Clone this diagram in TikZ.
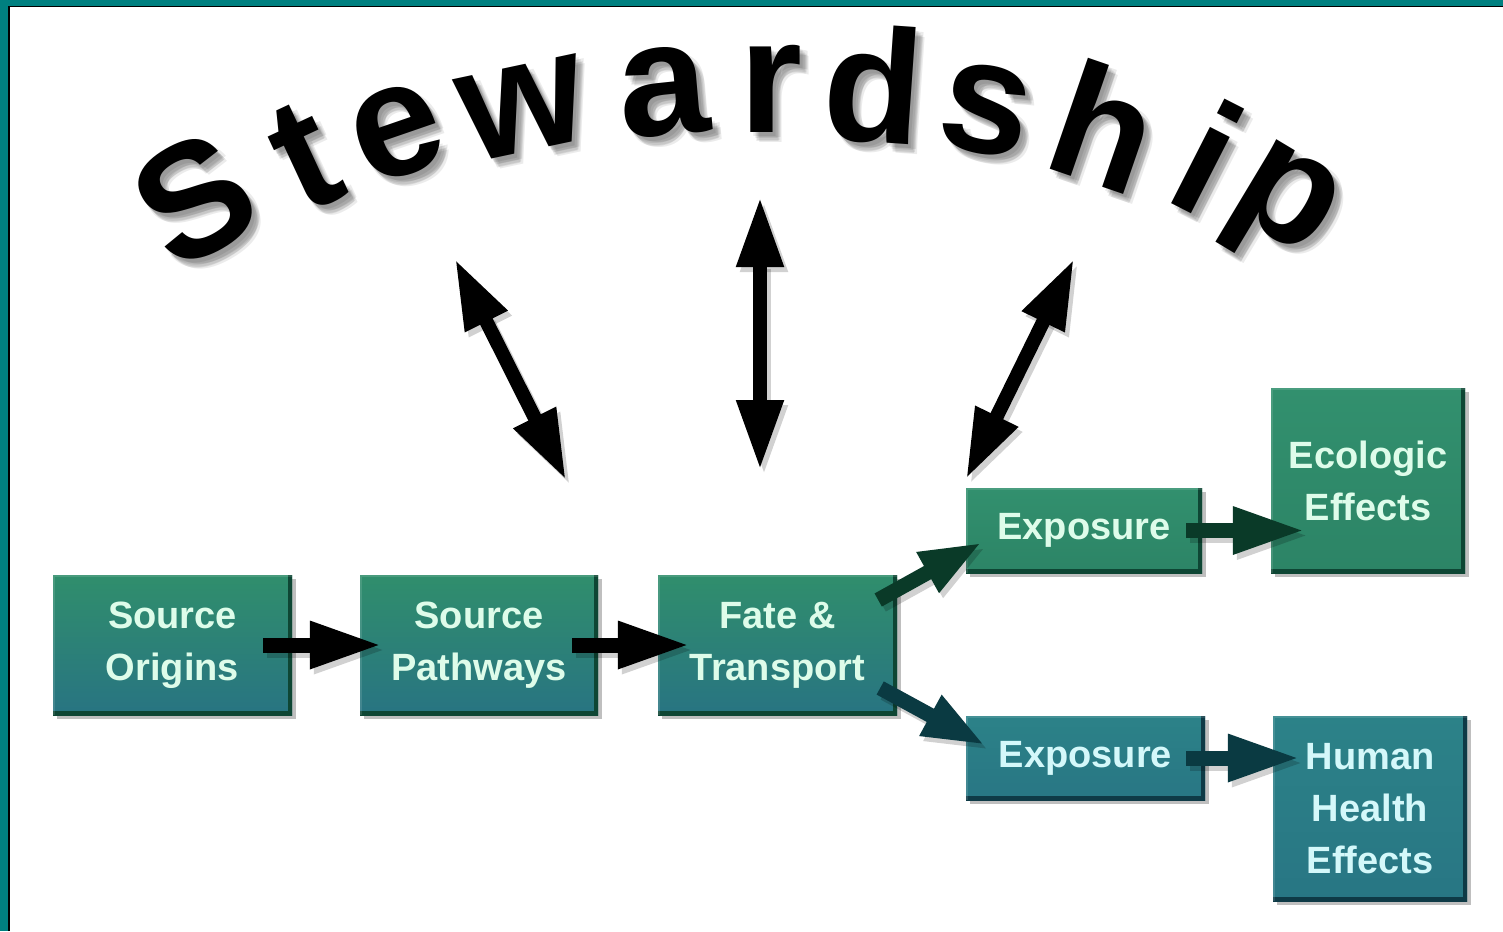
\documentclass[tikz,border=0pt]{standalone}
\usepackage{fontspec}
\setmainfont{Liberation Sans}
\usetikzlibrary{arrows.meta,shadows,calc}
\definecolor{frameteal}{RGB}{0,128,128}
\definecolor{gtop}{RGB}{48,142,108}
\definecolor{gbot}{RGB}{40,116,130}
\definecolor{g2top}{RGB}{50,144,110}
\definecolor{g2bot}{RGB}{44,132,102}
\definecolor{ttop}{RGB}{44,130,136}
\definecolor{tbot}{RGB}{40,118,132}
\definecolor{gdark}{RGB}{14,70,52}
\definecolor{tdark}{RGB}{14,58,70}
\definecolor{agreen}{RGB}{10,58,40}
\definecolor{ateal}{RGB}{10,58,66}
\definecolor{txtg}{RGB}{222,252,234}
\definecolor{txtt}{RGB}{212,248,250}
\tikzset{
  stewletter/.style={inner sep=0pt, text=black, font=\fontsize{162}{162}\selectfont\bfseries},
  box/.style={rectangle, inner sep=0pt, align=center,
    font=\fontsize{38}{52}\selectfont\bfseries,
    drop shadow={shadow xshift=4pt, shadow yshift=-4pt, opacity=.25, fill=black}},
  bevel/.style={path picture={
    \draw[line width=9pt,#1] (path picture bounding box.north east) -- (path picture bounding box.south east) -- (path picture bounding box.south west);
    \draw[line width=3pt,white,opacity=.12] (path picture bounding box.south west) -- (path picture bounding box.north west) -- (path picture bounding box.north east);}},
  srcbox/.style={box, top color=gtop, bottom color=gbot, text=txtg, bevel=gdark},
  ecobox/.style={box, top color=g2top, bottom color=g2bot, text=txtg, bevel=gdark},
  humbox/.style={box, top color=ttop, bottom color=tbot, text=txtt, bevel=tdark},
  arr/.style={line width=15pt, -{Triangle[length=72pt,width=44pt]}},
  darr/.style={line width=15pt, -{Triangle[length=62pt,width=42pt]}},
  dbl/.style={line width=14pt, {Triangle[length=70pt,width=44pt]}-{Triangle[length=70pt,width=44pt]}},
  ashadow/.style={opacity=.18, transform canvas={shift={(4pt,-5pt)}}}
}
\newcommand\stewchar[5]{%
  \foreach \dx/\dy [count=\k] in {3/4,5/6,7/8,9/10,6/9,8/5}{\node[stewletter,opacity=0.08,rotate=#4] (#1sh\k) at (#2+\dx,#3+\dy) {#5};}%
  \node[stewletter,rotate=#4] (#1) at (#2,#3) {#5};}
\begin{document}
\begin{tikzpicture}[x=1pt,y=-1pt]
\useasboundingbox (0,0) rectangle (1503,931);
\fill[white] (0,0) rectangle (1503,931);
\fill[frameteal] (0,0) rectangle (1503,6);
\fill[frameteal] (0,0) rectangle (8,931);
\draw[black, line width=1.5pt] (8.75,931) -- (8.75,6.75) -- (1503,6.75);

% Stewardship arched lettering
\stewchar{lS}{194}{199}{30}{S}
\stewchar{lt}{305}{157}{25}{t}
\stewchar{le}{397}{132}{19}{e}
\stewchar{lw}{523}{109}{12}{w}
\stewchar{la}{664}{92}{5}{a}
\stewchar{lr}{771}{89}{0}{r}
\stewchar{ld}{874}{84}{-4}{d}
\stewchar{ls}{986}{110}{-11}{s}
\stewchar{lh}{1105}{126}{-19}{h}
\stewchar{li}{1208}{156}{-27}{i}
\stewchar{lp}{1280}{210}{-31}{p}

% boxes
\node[srcbox, minimum width=239pt, minimum height=140pt] (so) at (172.5,645) {Source\\Origins};
\node[srcbox, minimum width=238pt, minimum height=140pt] (sp) at (479,645) {Source\\Pathways};
\node[srcbox, minimum width=239pt, minimum height=140pt] (ft) at (777.5,645) {Fate \&\\Transport};
\node[ecobox, minimum width=236pt, minimum height=85pt] (ex1) at (1084,530.5) {Exposure};
\node[ecobox, minimum width=194pt, minimum height=185pt] (eco) at (1368,480.5) {Ecologic\\Effects};
\node[humbox, minimum width=239pt, minimum height=84pt] (ex2) at (1085.5,758) {Exposure};
\node[humbox, minimum width=194pt, minimum height=185pt] (hh) at (1370,808.5) {Human\\Health\\Effects};

% stewardship double arrows
\coordinate (c1a) at (455,259);
\coordinate (c1b) at (566,480);
\coordinate (c2a) at (760,197);
\coordinate (c2b) at (760,470);
\coordinate (c3a) at (1074,259);
\coordinate (c3b) at (966,479);
\foreach \a/\b in {c1a/c1b,c2a/c2b,c3a/c3b}{
  \draw[dbl, ashadow] (\a) -- (\b);
  \draw[dbl, black] (\a) -- (\b);
}

% flow arrows
\draw[arr, ashadow] ([xshift=-29pt]so.east) -- ([xshift=22pt]sp.west);
\draw[arr, black] ([xshift=-29pt]so.east) -- ([xshift=22pt]sp.west);
\draw[arr, ashadow] ([xshift=-26pt]sp.east) -- ([xshift=32pt]ft.west);
\draw[arr, black] ([xshift=-26pt]sp.east) -- ([xshift=32pt]ft.west);

\draw[darr, ashadow] ([xshift=-19pt,yshift=45pt]ft.east) -- ([xshift=16pt,yshift=-12pt]ex1.west);
\draw[darr, agreen] ([xshift=-19pt,yshift=45pt]ft.east) -- ([xshift=16pt,yshift=-12pt]ex1.west);
\draw[darr, ashadow] ([xshift=-17pt,yshift=-43pt]ft.east) -- ([xshift=19pt,yshift=13pt]ex2.west);
\draw[darr, ateal] ([xshift=-17pt,yshift=-43pt]ft.east) -- ([xshift=19pt,yshift=13pt]ex2.west);

\draw[arr, ashadow] ($(ex1.east)+(-16,0)$) -- ($(ex1.east -| eco.west)+(34,0)$);
\draw[arr, agreen] ($(ex1.east)+(-16,0)$) -- ($(ex1.east -| eco.west)+(34,0)$);
\draw[arr, ashadow] ($(ex2.east)+(-19,0)$) -- ($(ex2.east -| hh.west)+(27,0)$);
\draw[arr, ateal] ($(ex2.east)+(-19,0)$) -- ($(ex2.east -| hh.west)+(27,0)$);
\end{tikzpicture}
\end{document}
